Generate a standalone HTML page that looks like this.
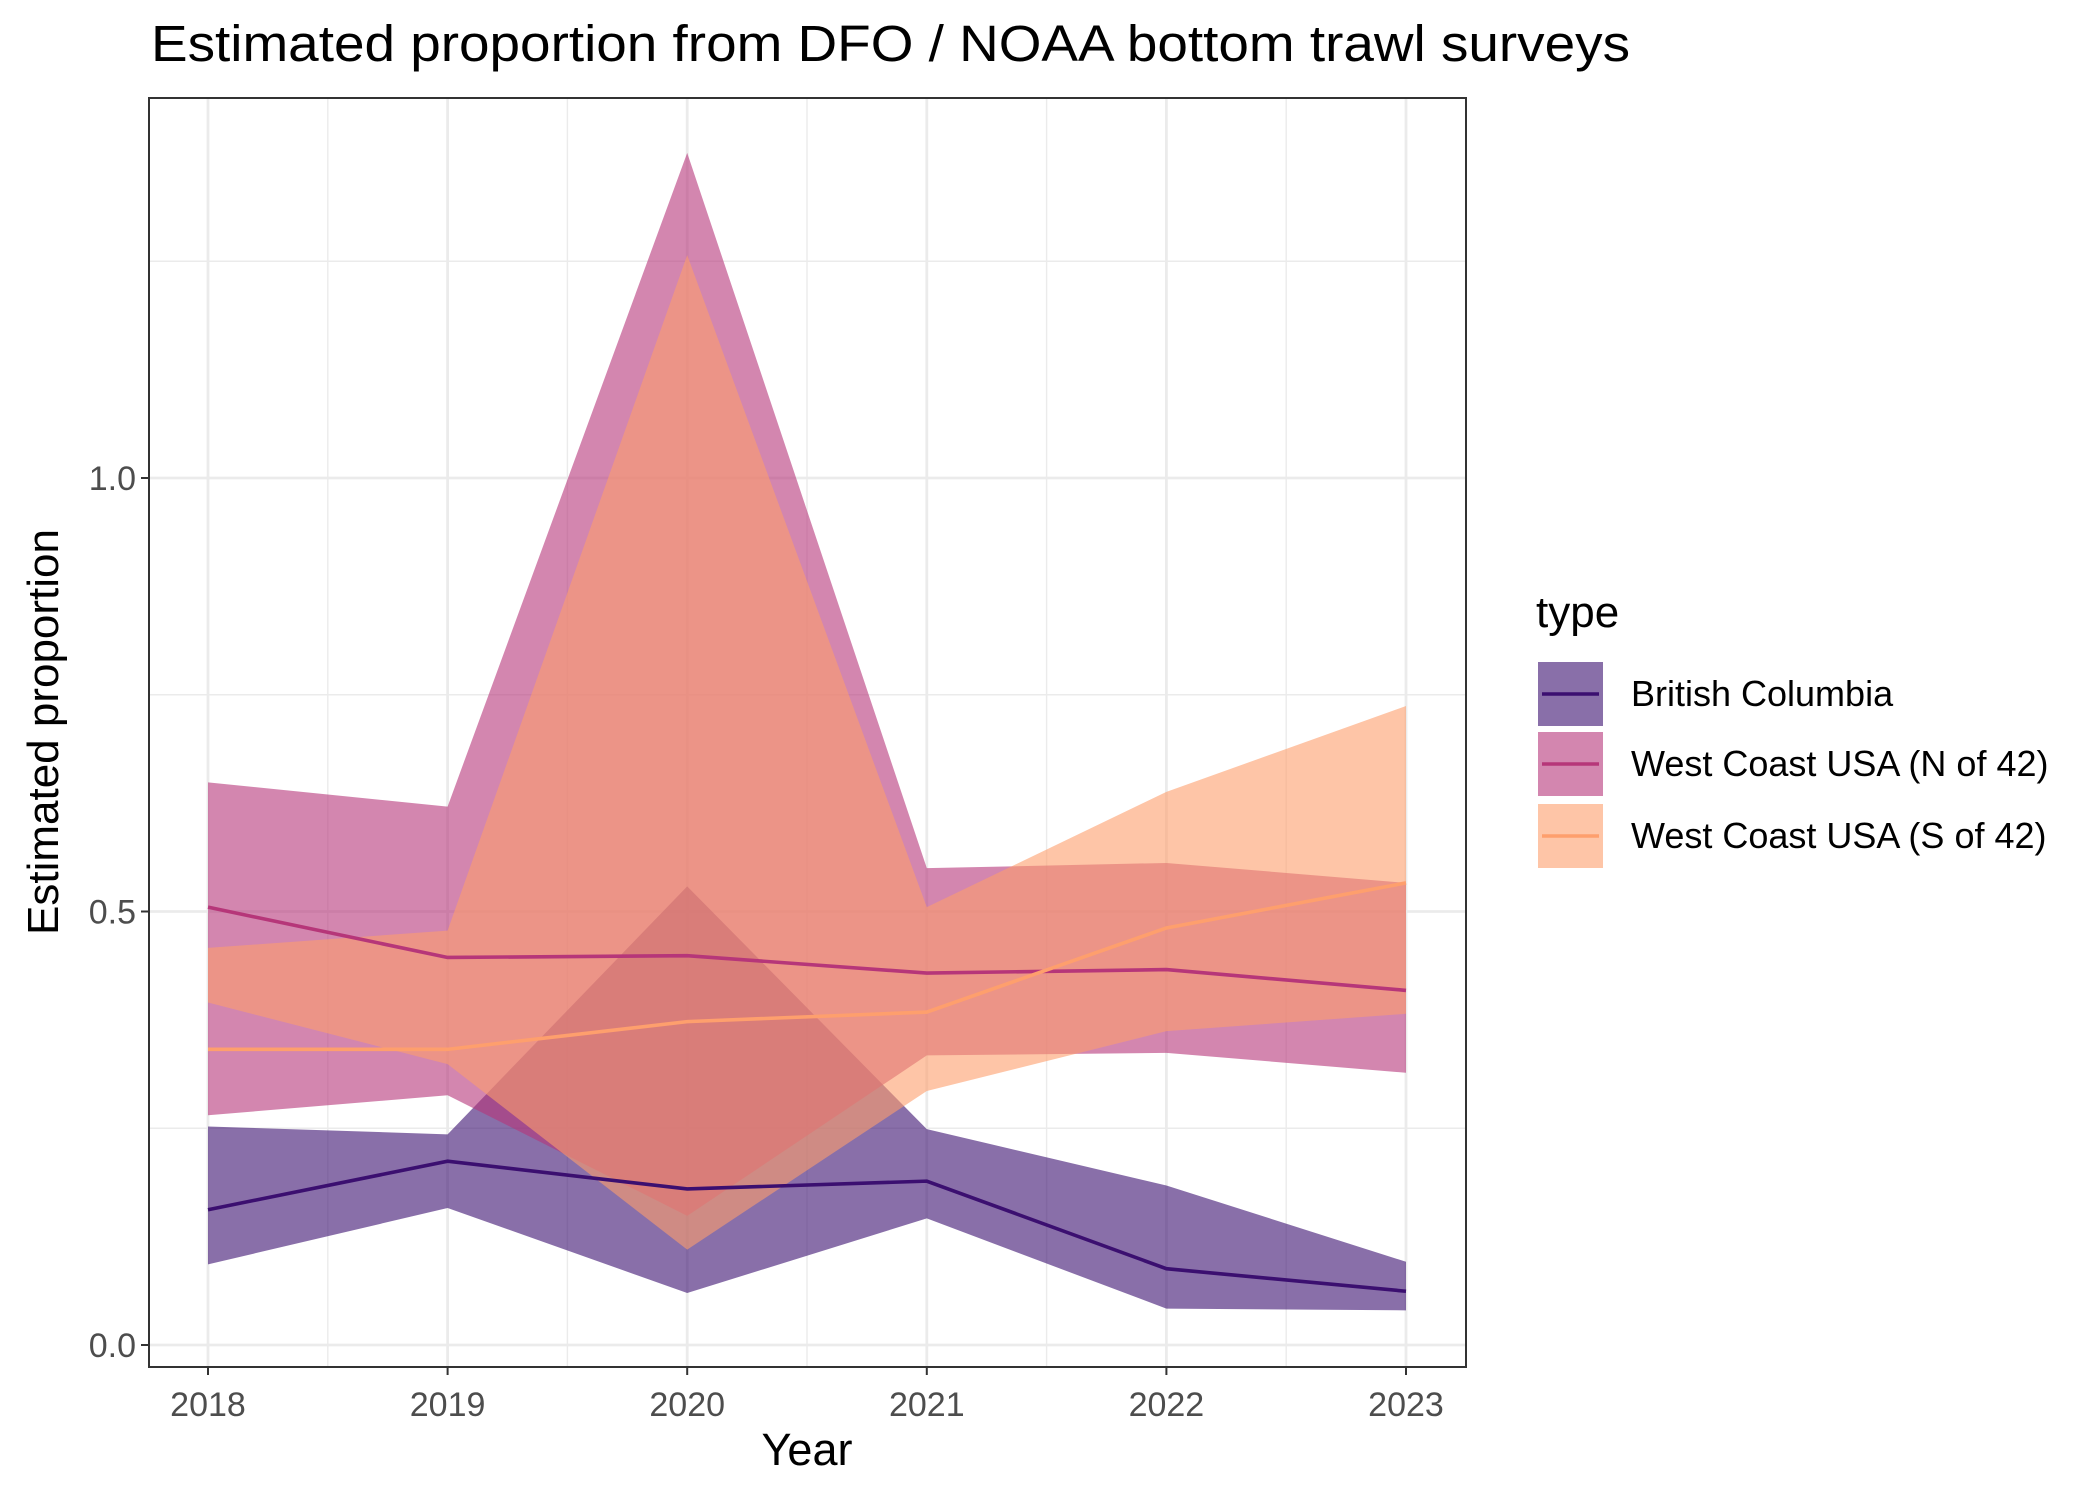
<!DOCTYPE html>
<html><head><meta charset="utf-8"><style>
html,body{margin:0;padding:0;background:#fff;}
svg{display:block;font-family:"Liberation Sans",sans-serif;}
</style></head><body>
<svg id="chart" width="2100" height="1500" viewBox="0 0 2100 1500">
<rect x="0" y="0" width="2100" height="1500" fill="#fff"/>
<text x="151" y="61" font-size="51" textLength="1479" lengthAdjust="spacingAndGlyphs" fill="#000">Estimated proportion from DFO / NOAA bottom trawl surveys</text>
<g id="grid"></g><g id="bands"></g><g id="lines"></g>
<rect x="149" y="98" width="1317" height="1269" fill="none" stroke="#333" stroke-width="2"/>
<g id="axes"></g>
<text x="807" y="1465" font-size="45" text-anchor="middle" fill="#000">Year</text>
<text x="0" y="0" font-size="44" text-anchor="middle" fill="#000" transform="translate(58,732) rotate(-90)">Estimated proportion</text>
<g id="legend"></g>
</svg>
<script>
const years=[2018,2019,2020,2021,2022,2023];
const seriesNames=["British Columbia","West Coast USA (N of 42)","West Coast USA (S of 42)"];
const bcMid=[0.156,0.212,0.180,0.189,0.088,0.062];
const bcHi=[0.252,0.243,0.529,0.249,0.184,0.096];
const bcLo=[0.093,0.158,0.060,0.146,0.042,0.040];
const nMid=[0.505,0.447,0.449,0.429,0.433,0.409];
const nHi=[0.649,0.621,1.375,0.550,0.556,0.533];
const nLo=[0.265,0.288,0.149,0.334,0.337,0.314];
const sMid=[0.341,0.341,0.373,0.384,0.481,0.533];
const sHi=[0.458,0.478,1.257,0.505,0.638,0.737];
const sLo=[0.395,0.324,0.110,0.293,0.362,0.382];
const yTicks=[0,0.5,1.0];
const yTickLabels=["0.0","0.5","1.0"];
const yMinor=[0.25,0.75,1.25];

const NS="http://www.w3.org/2000/svg";
const L=149,R=1466,T=98,B=1367;
const xs=v=>208+(v-2018)*(1406-208)/5;
const ys=v=>1345-v*867;
function mk(tag,attrs,parent){const e=document.createElementNS(NS,tag);for(const k in attrs)e.setAttribute(k,attrs[k]);parent.appendChild(e);return e;}
const grid=document.getElementById('grid'),bands=document.getElementById('bands'),lines=document.getElementById('lines'),axes=document.getElementById('axes'),legend=document.getElementById('legend');
mk('rect',{x:L,y:T,width:R-L,height:B-T,fill:'#fff'},grid);
yMinor.forEach(v=>{const e=mk('line',{x1:L,x2:R,y1:ys(v),y2:ys(v),stroke:'#ebebeb','stroke-width':1.4},grid);

});
for(let i=0;i<years.length-1;i++){const xm=(xs(years[i])+xs(years[i+1]))/2;const e=mk('line',{x1:xm,x2:xm,y1:T,y2:B,stroke:'#ebebeb','stroke-width':1.4},grid);

}
yTicks.forEach(v=>{const e=mk('line',{x1:L,x2:R,y1:ys(v),y2:ys(v),stroke:'#ebebeb','stroke-width':2.8},grid);

});
years.forEach(v=>{const e=mk('line',{x1:xs(v),x2:xs(v),y1:T,y2:B,stroke:'#ebebeb','stroke-width':2.8},grid);

});
const lineCols=["#3b0f70","#b63679","#fe9f6d"];
const fills=["#3b0f70","#b63679","#fe9f6d"];
const data=[[bcLo,bcMid,bcHi],[nLo,nMid,nHi],[sLo,sMid,sHi]];
const keys=['british-columbia','west-coast-north','west-coast-south'];
data.forEach((d,k)=>{
  const up=years.map((y,i)=>xs(y)+','+ys(d[2][i]));
  const lo=years.map((y,i)=>xs(y)+','+ys(d[0][i])).reverse();
  const p=mk('polygon',{points:up.concat(lo).join(' '),fill:fills[k],'fill-opacity':0.6},bands);
  
  
});
data.forEach((d,k)=>{
  const pts=years.map((y,i)=>xs(y)+','+ys(d[1][i])).join(' ');
  const l=mk('polyline',{points:pts,fill:'none',stroke:lineCols[k],'stroke-width':3.6},lines);
  
  
});
yTicks.forEach((v,i)=>{
  mk('line',{x1:L-8,x2:L,y1:ys(v),y2:ys(v),stroke:'#333','stroke-width':2},axes);
  const t=mk('text',{x:L-13,y:ys(v)+12,'font-size':34,'text-anchor':'end',fill:'#4d4d4d'},axes);
  t.textContent=yTickLabels[i];
  
  
});
years.forEach(v=>{
  mk('line',{x1:xs(v),x2:xs(v),y1:B,y2:B+8,stroke:'#333','stroke-width':2},axes);
  const t=mk('text',{x:xs(v),y:1416,'font-size':34,'text-anchor':'middle',fill:'#4d4d4d'},axes);
  t.textContent=v;
  
  
});
const lt=mk('text',{x:1536,y:627,'font-size':44,fill:'#000'},legend);
lt.textContent='type';


const ky=[662,732,804];
seriesNames.forEach((n,k)=>{
  const g=mk('g',{},legend);
  
  
  mk('rect',{x:1538,y:ky[k],width:65,height:64,fill:fills[k],'fill-opacity':0.6},g);
  mk('line',{x1:1542,x2:1599,y1:ky[k]+32,y2:ky[k]+32,stroke:lineCols[k],'stroke-width':3.6},g);
  const t=mk('text',{x:1631,y:ky[k]+44,'font-size':36,fill:'#000'},g);
  t.textContent=n;
});
</script>
</body></html>
